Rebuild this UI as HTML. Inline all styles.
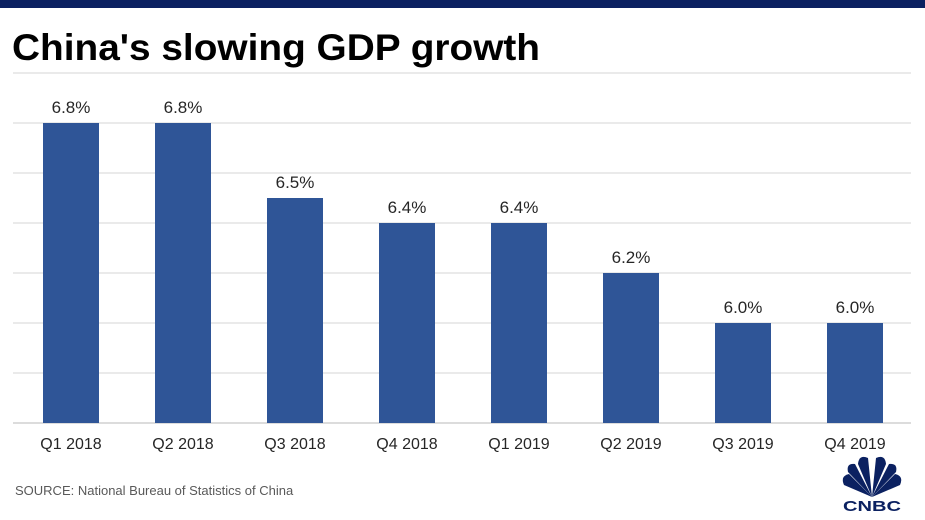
<!DOCTYPE html>
<html><head><meta charset="utf-8"><style>
body{margin:0;background:#fff;}
svg{display:block;font-family:"Liberation Sans",sans-serif;}
</style></head><body>
<svg id="chart" width="925" height="520">
<rect x="0" y="0" width="925" height="8" fill="#0b2161"/>
<text x="12" y="60" font-size="37" font-weight="bold" fill="#000" textLength="528" lengthAdjust="spacingAndGlyphs">China's slowing GDP growth</text>
<g id="grid"></g><g id="bars"></g>
<text x="15" y="495" font-size="13" fill="#595959">SOURCE: National Bureau of Statistics of China</text>
<g fill="#0b2161">
<path d="M872 497 L844 485 Q840 476 849 474 Z"/>
<path d="M872 497 L848 472 Q846 463 855 464 Z"/>
<path d="M872 497 L858 464 Q859 454 868 458 Z"/>
<path d="M872 497 L886 464 Q885 454 876 458 Z"/>
<path d="M872 497 L896 472 Q898 463 889 464 Z"/>
<path d="M872 497 L900 485 Q904 476 895 474 Z"/>
<text x="872" y="511" font-size="15" font-weight="bold" text-anchor="middle" textLength="58" lengthAdjust="spacingAndGlyphs">CNBC</text>
</g>
</svg>
<script>
const categories=["Q1 2018","Q2 2018","Q3 2018","Q4 2018","Q1 2019","Q2 2019","Q3 2019","Q4 2019"];
const values=[6.8,6.8,6.5,6.4,6.4,6.2,6.0,6.0];
const labels=["6.8%","6.8%","6.5%","6.4%","6.4%","6.2%","6.0%","6.0%"];
const gridTicks=[5.6,5.8,6.0,6.2,6.4,6.6,6.8,7.0];
const NS="http://www.w3.org/2000/svg";
const x0=15,x1=911,y0=423,yTop=73,vMin=5.6,vMax=7.0;
const band=(x1-x0)/categories.length,bw=56;
function y(v){return y0-(v-vMin)/(vMax-vMin)*(y0-yTop);}
function xc(i){return x0+band*(i+0.5);}
function mk(t,a,p){const e=document.createElementNS(NS,t);for(const k in a)e.setAttribute(k,a[k]);p.appendChild(e);return e;}
const grid=document.getElementById('grid'),bars=document.getElementById('bars');
gridTicks.forEach(v=>{
 const l=mk('line',{x1:x0-2,x2:x1,y1:y(v),y2:y(v),stroke:v===vMin?'#d0d0d0':'#e3e3e3','stroke-width':1.5},grid);
 
 
});
categories.forEach((c,i)=>{
 const r=mk('rect',{x:xc(i)-bw/2,y:y(values[i]),width:bw,height:y0-y(values[i]),fill:'#2f5597'},bars);
 
 
 const t=mk('text',{x:xc(i),y:y(values[i])-10,'text-anchor':'middle','font-size':17,fill:'#262626'},bars);
 t.textContent=labels[i];
 
 
 const a=mk('text',{x:xc(i),y:y0+26,'text-anchor':'middle','font-size':16,fill:'#262626'},bars);
 a.textContent=c;
 
 
});
</script>
</body></html>
